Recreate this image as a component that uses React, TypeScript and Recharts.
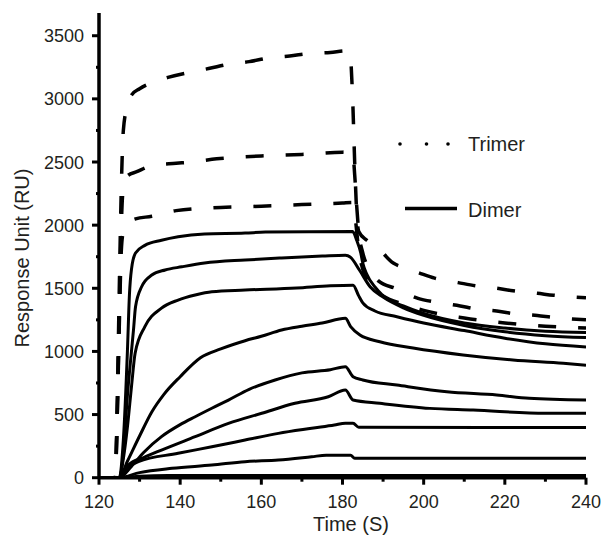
import { Line, LineChart, XAxis, YAxis } from "recharts";

type Pt = [number, number]; // [time s, response RU]

const TIME_TICKS = [120, 130, 140, 150, 160, 170, 180, 190, 200, 210, 220, 230, 240];
const RU_TICKS = [
  0, 250, 500, 750, 1000, 1250, 1500, 1750, 2000, 2250, 2500, 2750, 3000, 3250, 3500,
];

// trimer sensorgrams (dashed)
const trimerHigh: Pt[] = [
  [120, 0], [124, 0], [124.5, 600], [125, 1500], [125.5, 2300], [126, 2750], [127, 2950],
  [128, 3030], [130, 3080], [134, 3140], [137, 3170], [143, 3215], [147, 3240], [152, 3275],
  [157, 3295], [162, 3325], [167, 3340], [172, 3360], [177, 3368], [181, 3380], [181.8, 3370],
  [182.5, 3000], [183, 2500], [183.5, 2100], [184, 1950], [186, 1880], [188.5, 1825],
  [192.5, 1700], [195, 1665], [198.6, 1625], [202.7, 1580], [208.5, 1545], [212.7, 1520],
  [218, 1500], [222, 1480], [228, 1460], [232, 1445], [240, 1425],
];
const trimerMid: Pt[] = [
  [120, 0], [124, 0], [124.5, 500], [125, 1300], [125.5, 2000], [126, 2300], [127, 2390],
  [129.3, 2423], [133.4, 2475], [139, 2490], [143, 2500], [149, 2525], [153, 2535], [160, 2548],
  [170, 2560], [180, 2578], [182.5, 2580], [183, 2400], [183.5, 2150], [184, 1950], [185, 1780],
  [187, 1640], [189, 1555], [193, 1500], [198.6, 1420], [203, 1390], [209, 1360], [213, 1335],
  [218, 1320], [222, 1300], [228, 1285], [232, 1270], [240, 1250],
];
const trimerLow: Pt[] = [
  [120, 0], [124, 0], [124.5, 500], [125, 1200], [125.5, 1800], [126, 1950], [127, 2010],
  [129, 2050], [133, 2070], [139, 2115], [150, 2140], [160, 2150], [170, 2163], [180, 2175],
  [182.3, 2180], [183, 2100], [183.5, 1950], [184, 1800], [185, 1650], [187, 1520], [190, 1440],
  [195, 1375], [200, 1325], [210, 1265], [220, 1225], [230, 1200], [240, 1185],
];

// dimer sensorgrams (solid)
const dimer1: Pt[] = [
  [120, 0], [125, 0], [126, 300], [127, 1000], [127.5, 1450], [128, 1650], [129, 1780],
  [131.3, 1840], [135.4, 1880], [139.5, 1908], [146, 1930], [156, 1937], [161, 1945],
  [182.5, 1950], [183.5, 1880], [184.5, 1780], [185, 1700], [186, 1610], [188, 1510],
  [190, 1440], [195, 1360], [200, 1300], [210, 1225], [220, 1185], [230, 1160], [240, 1150],
];
const dimer2: Pt[] = [
  [120, 0], [125, 0], [126, 200], [127, 650], [128, 1000], [128.5, 1170], [129, 1354],
  [130.5, 1512], [133, 1605], [136.3, 1645], [140.4, 1670], [146, 1700], [156, 1724],
  [165, 1740], [175, 1755], [180.7, 1762], [182, 1745], [184.2, 1643], [186.8, 1512],
  [190, 1430], [195, 1345], [200, 1285], [210, 1205], [220, 1155], [230, 1125], [240, 1110],
];
const dimer3: Pt[] = [
  [120, 0], [125, 0], [126, 150], [127, 400], [128, 720], [128.9, 985], [131.3, 1196],
  [135.4, 1343], [139.5, 1407], [143.7, 1447], [147.8, 1473], [156, 1486], [168.7, 1502],
  [177, 1520], [182.6, 1525], [184, 1440], [185, 1385], [188, 1320], [193.4, 1275],
  [200, 1225], [210, 1165], [220, 1105], [230, 1060], [240, 1035],
];
const dimer4: Pt[] = [
  [120, 0], [125, 0], [127, 130], [130, 330], [133, 520], [136, 660], [140, 800], [145, 950],
  [150, 1020], [156, 1085], [160, 1120], [165, 1170], [170, 1200], [175, 1225], [180.7, 1262],
  [182, 1196], [184.3, 1130], [189.2, 1077], [197.4, 1027], [209.7, 972], [222, 932],
  [234.4, 906], [240, 891],
];
const dimer5: Pt[] = [
  [120, 0], [125, 0], [128, 90], [131, 200], [135.4, 325], [140, 420], [143.7, 483],
  [147.8, 550], [151.9, 615], [157, 700], [163.4, 774], [170, 830], [177, 855], [180.7, 879],
  [182.6, 800], [185, 774], [193.4, 734], [205.7, 681], [218, 655], [226, 629], [240, 615],
];
const dimer6: Pt[] = [
  [120, 0], [125, 0], [127.2, 100], [131, 160], [135.4, 219], [143.7, 325], [151.9, 430],
  [160.1, 510], [168.3, 589], [176.5, 641], [180.7, 694], [182.6, 615], [189.2, 589],
  [201.5, 549], [212.2, 536], [230, 510], [240, 510],
];
const dimer7: Pt[] = [
  [120, 0], [125, 0], [126.4, 60], [129.7, 127], [139.5, 193], [147.8, 245], [156, 298],
  [164.2, 351], [172.4, 391], [178, 417], [180.7, 431], [182.6, 431], [184, 400], [240, 397],
];
const dimer8: Pt[] = [
  [120, 0], [125, 0], [130, 40], [138, 74], [147.8, 100], [156, 127], [164.2, 140],
  [172.4, 166], [176, 178], [182, 178], [183, 155], [240, 155],
];
const dimer9: Pt[] = [[120, 0], [125, 0], [130, 12], [137, 18], [240, 18]];

const TRIMERS = [trimerHigh, trimerMid, trimerLow];
const DIMERS = [dimer1, dimer2, dimer3, dimer4, dimer5, dimer6, dimer7, dimer8, dimer9];

const FONT = '"Liberation Sans", Arial, Helvetica, sans-serif';
const INK = "#000";
const TEXT = "#231f20";

const toRows = (pts: Pt[]) => pts.map(([t, ru]) => ({ t, ru }));

function TimeTick({ x, y, payload }: any) {
  const major = payload.value % 20 === 0;
  return (
    <g>
      <line x1={x} x2={x} y1={y} y2={y + (major ? 7 : 4)} stroke={INK} strokeWidth={3} />
      {major && (
        <text x={x} y={y + 30} textAnchor="middle" fontSize={18} fontFamily={FONT} fill={TEXT}>
          {payload.value}
        </text>
      )}
    </g>
  );
}

function RuTick({ x, y, payload }: any) {
  const major = payload.value % 500 === 0;
  return (
    <g>
      <line x1={x - (major ? 7 : 3)} x2={x} y1={y} y2={y} stroke={INK} strokeWidth={3} />
      {major && (
        <text x={x - 15} y={y + 6.5} textAnchor="end" fontSize={18} fontFamily={FONT} fill={TEXT}>
          {payload.value}
        </text>
      )}
    </g>
  );
}

export default function App() {
  return (
    <div style={{ position: "absolute", left: 0, top: 0, width: 602, height: 541, background: "#fff" }}>
      <LineChart width={602} height={541} margin={{ top: 13, right: 16, bottom: 0, left: 0 }}>
        <XAxis
          dataKey="t"
          type="number"
          domain={[120, 240]}
          ticks={TIME_TICKS}
          interval={0}
          height={63.3}
          tickSize={0}
          tickMargin={0}
          tickLine={false}
          axisLine={{ stroke: INK, strokeWidth: 3.5 }}
          tick={<TimeTick />}
          allowDataOverflow
        />
        <YAxis
          type="number"
          domain={[0, 3680]}
          ticks={RU_TICKS}
          interval={0}
          width={99}
          tickSize={0}
          tickMargin={0}
          tickLine={false}
          axisLine={{ stroke: INK, strokeWidth: 3.5 }}
          tick={<RuTick />}
          allowDataOverflow
        />
        {DIMERS.map((pts, i) => (
          <Line
            key={`d${i}`}
            data={toRows(pts)}
            dataKey="ru"
            type="monotone"
            stroke={INK}
            strokeWidth={3}
            dot={false}
            isAnimationActive={false}
          />
        ))}
        {TRIMERS.map((pts, i) => (
          <Line
            key={`t${i}`}
            data={toRows(pts)}
            dataKey="ru"
            type="monotone"
            stroke={INK}
            strokeWidth={3.5}
            strokeDasharray="18 22"
            dot={false}
            isAnimationActive={false}
          />
        ))}
      </LineChart>
      <svg
        width={602}
        height={541}
        style={{ position: "absolute", left: 0, top: 0, pointerEvents: "none" }}
      >
        {/* legend */}
        {[400, 426.5, 448].map((cx) => (
          <circle key={cx} cx={cx} cy={144} r={1.8} fill={INK} />
        ))}
        <text x={468} y={151} fontSize={20} fontFamily={FONT} fill={TEXT}>
          Trimer
        </text>
        <line x1={405} x2={457} y1={208.5} y2={208.5} stroke={INK} strokeWidth={3.5} />
        <text x={468} y={216.5} fontSize={20} fontFamily={FONT} fill={TEXT}>
          Dimer
        </text>
        {/* axis titles */}
        <text x={351} y={531} textAnchor="middle" fontSize={20} fontFamily={FONT} fill={TEXT}>
          Time (S)
        </text>
        <text
          x={29}
          y={258}
          textAnchor="middle"
          fontSize={20}
          fontFamily={FONT}
          fill={TEXT}
          transform="rotate(-90 29 258)"
        >
          Response Unit (RU)
        </text>
      </svg>
    </div>
  );
}
